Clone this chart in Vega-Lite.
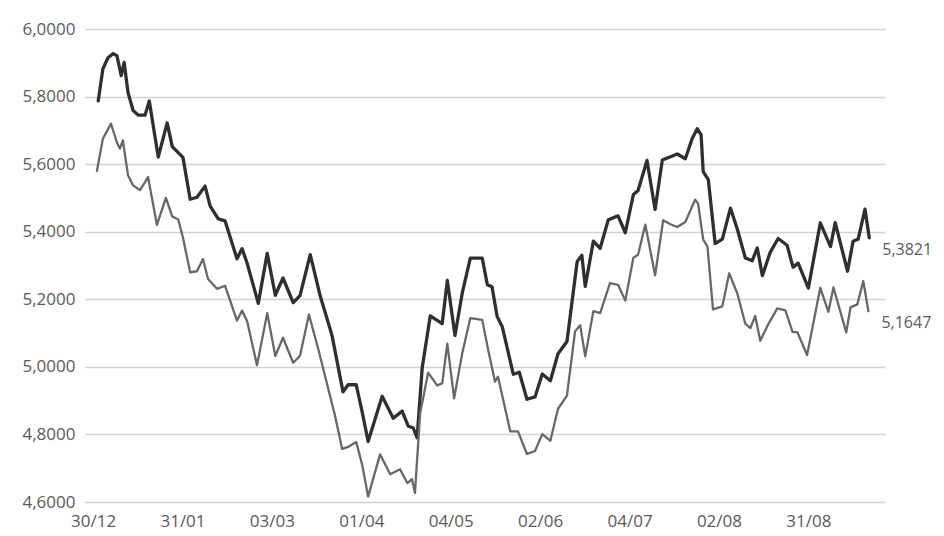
{
 "$schema": "https://vega.github.io/schema/vega-lite/v6.json",
 "autosize": {"type": "none"},
 "width": 800,
 "height": 473,
 "padding": {"left": 85, "top": 29, "right": 59, "bottom": 34},
 "config": {
  "locale": {"number": {"decimal": ",", "thousands": ".", "grouping": [3], "currency": ["R$ ", ""]}},
  "view": {"stroke": null},
  "font": "Open Sans"
 },
 "data": {"values": [
  {"s":"Turismo","t":1.2,"v":5.787},{"s":"Turismo","t":2.3,"v":5.882},{"s":"Turismo","t":3.5,"v":5.915},{"s":"Turismo","t":4.7,"v":5.927},{"s":"Turismo","t":5.6,"v":5.921},{"s":"Turismo","t":6.6,"v":5.862},{"s":"Turismo","t":7.3,"v":5.901},{"s":"Turismo","t":8.2,"v":5.812},{"s":"Turismo","t":9.4,"v":5.759},{"s":"Turismo","t":10.6,"v":5.745},{"s":"Turismo","t":12.2,"v":5.745},{"s":"Turismo","t":13.2,"v":5.787},{"s":"Turismo","t":14.1,"v":5.716},{"s":"Turismo","t":15.3,"v":5.621},{"s":"Turismo","t":17.4,"v":5.722},{"s":"Turismo","t":18.6,"v":5.652},{"s":"Turismo","t":20.0,"v":5.634},{"s":"Turismo","t":21.1,"v":5.620},{"s":"Turismo","t":22.8,"v":5.496},{"s":"Turismo","t":24.4,"v":5.502},{"s":"Turismo","t":26.3,"v":5.535},{"s":"Turismo","t":27.5,"v":5.476},{"s":"Turismo","t":29.4,"v":5.438},{"s":"Turismo","t":31.0,"v":5.432},{"s":"Turismo","t":33.8,"v":5.320},{"s":"Turismo","t":35.0,"v":5.350},{"s":"Turismo","t":36.2,"v":5.306},{"s":"Turismo","t":38.8,"v":5.188},{"s":"Turismo","t":40.9,"v":5.336},{"s":"Turismo","t":42.8,"v":5.212},{"s":"Turismo","t":44.6,"v":5.263},{"s":"Turismo","t":47.0,"v":5.190},{"s":"Turismo","t":48.6,"v":5.211},{"s":"Turismo","t":51.0,"v":5.332},{"s":"Turismo","t":53.3,"v":5.212},{"s":"Turismo","t":56.1,"v":5.094},{"s":"Turismo","t":58.7,"v":4.926},{"s":"Turismo","t":59.9,"v":4.947},{"s":"Turismo","t":61.8,"v":4.947},{"s":"Turismo","t":63.2,"v":4.867},{"s":"Turismo","t":64.6,"v":4.779},{"s":"Turismo","t":67.9,"v":4.913},{"s":"Turismo","t":70.5,"v":4.848},{"s":"Turismo","t":72.6,"v":4.869},{"s":"Turismo","t":74.0,"v":4.825},{"s":"Turismo","t":75.2,"v":4.819},{"s":"Turismo","t":76.1,"v":4.790},{"s":"Turismo","t":77.3,"v":4.997},{"s":"Turismo","t":79.2,"v":5.151},{"s":"Turismo","t":82.0,"v":5.128},{"s":"Turismo","t":83.2,"v":5.256},{"s":"Turismo","t":85.0,"v":5.093},{"s":"Turismo","t":86.7,"v":5.218},{"s":"Turismo","t":88.6,"v":5.322},{"s":"Turismo","t":91.4,"v":5.322},{"s":"Turismo","t":92.6,"v":5.243},{"s":"Turismo","t":93.7,"v":5.237},{"s":"Turismo","t":94.9,"v":5.149},{"s":"Turismo","t":96.1,"v":5.119},{"s":"Turismo","t":98.7,"v":4.978},{"s":"Turismo","t":100.1,"v":4.984},{"s":"Turismo","t":101.9,"v":4.904},{"s":"Turismo","t":103.8,"v":4.911},{"s":"Turismo","t":105.5,"v":4.979},{"s":"Turismo","t":107.4,"v":4.959},{"s":"Turismo","t":109.2,"v":5.039},{"s":"Turismo","t":111.3,"v":5.075},{"s":"Turismo","t":113.7,"v":5.312},{"s":"Turismo","t":114.8,"v":5.330},{"s":"Turismo","t":115.6,"v":5.238},{"s":"Turismo","t":117.5,"v":5.372},{"s":"Turismo","t":119.1,"v":5.351},{"s":"Turismo","t":121.0,"v":5.435},{"s":"Turismo","t":123.3,"v":5.447},{"s":"Turismo","t":125.0,"v":5.397},{"s":"Turismo","t":126.9,"v":5.510},{"s":"Turismo","t":128.0,"v":5.522},{"s":"Turismo","t":130.1,"v":5.611},{"s":"Turismo","t":132.0,"v":5.466},{"s":"Turismo","t":133.7,"v":5.612},{"s":"Turismo","t":135.5,"v":5.621},{"s":"Turismo","t":137.2,"v":5.630},{"s":"Turismo","t":139.1,"v":5.616},{"s":"Turismo","t":140.7,"v":5.675},{"s":"Turismo","t":141.9,"v":5.705},{"s":"Turismo","t":142.8,"v":5.687},{"s":"Turismo","t":143.3,"v":5.578},{"s":"Turismo","t":144.5,"v":5.554},{"s":"Turismo","t":146.1,"v":5.365},{"s":"Turismo","t":147.8,"v":5.378},{"s":"Turismo","t":149.7,"v":5.470},{"s":"Turismo","t":151.3,"v":5.408},{"s":"Turismo","t":153.2,"v":5.322},{"s":"Turismo","t":154.8,"v":5.314},{"s":"Turismo","t":156.0,"v":5.352},{"s":"Turismo","t":157.2,"v":5.270},{"s":"Turismo","t":159.0,"v":5.338},{"s":"Turismo","t":160.9,"v":5.380},{"s":"Turismo","t":163.0,"v":5.360},{"s":"Turismo","t":164.4,"v":5.295},{"s":"Turismo","t":165.6,"v":5.307},{"s":"Turismo","t":168.0,"v":5.233},{"s":"Turismo","t":170.8,"v":5.426},{"s":"Turismo","t":173.2,"v":5.356},{"s":"Turismo","t":174.3,"v":5.427},{"s":"Turismo","t":177.2,"v":5.283},{"s":"Turismo","t":178.5,"v":5.372},{"s":"Turismo","t":179.7,"v":5.378},{"s":"Turismo","t":181.3,"v":5.467},{"s":"Turismo","t":182.3,"v":5.3821},
  {"s":"Comercial","t":0.9,"v":5.580},{"s":"Comercial","t":2.3,"v":5.675},{"s":"Comercial","t":4.2,"v":5.720},{"s":"Comercial","t":5.6,"v":5.664},{"s":"Comercial","t":6.3,"v":5.646},{"s":"Comercial","t":7.0,"v":5.670},{"s":"Comercial","t":8.2,"v":5.567},{"s":"Comercial","t":9.4,"v":5.537},{"s":"Comercial","t":11.0,"v":5.523},{"s":"Comercial","t":12.2,"v":5.547},{"s":"Comercial","t":12.9,"v":5.562},{"s":"Comercial","t":15.0,"v":5.420},{"s":"Comercial","t":17.1,"v":5.500},{"s":"Comercial","t":18.6,"v":5.445},{"s":"Comercial","t":20.0,"v":5.436},{"s":"Comercial","t":21.1,"v":5.383},{"s":"Comercial","t":22.8,"v":5.280},{"s":"Comercial","t":24.4,"v":5.283},{"s":"Comercial","t":25.8,"v":5.319},{"s":"Comercial","t":27.0,"v":5.260},{"s":"Comercial","t":29.1,"v":5.231},{"s":"Comercial","t":31.0,"v":5.240},{"s":"Comercial","t":33.8,"v":5.137},{"s":"Comercial","t":35.0,"v":5.167},{"s":"Comercial","t":36.2,"v":5.134},{"s":"Comercial","t":38.5,"v":5.005},{"s":"Comercial","t":40.9,"v":5.159},{"s":"Comercial","t":42.8,"v":5.032},{"s":"Comercial","t":44.6,"v":5.086},{"s":"Comercial","t":47.0,"v":5.012},{"s":"Comercial","t":48.6,"v":5.033},{"s":"Comercial","t":50.7,"v":5.155},{"s":"Comercial","t":52.9,"v":5.052},{"s":"Comercial","t":56.8,"v":4.857},{"s":"Comercial","t":58.5,"v":4.757},{"s":"Comercial","t":59.9,"v":4.763},{"s":"Comercial","t":61.8,"v":4.778},{"s":"Comercial","t":63.2,"v":4.710},{"s":"Comercial","t":64.6,"v":4.616},{"s":"Comercial","t":67.4,"v":4.741},{"s":"Comercial","t":69.8,"v":4.682},{"s":"Comercial","t":72.1,"v":4.697},{"s":"Comercial","t":73.8,"v":4.656},{"s":"Comercial","t":74.9,"v":4.668},{"s":"Comercial","t":75.6,"v":4.627},{"s":"Comercial","t":76.8,"v":4.861},{"s":"Comercial","t":78.7,"v":4.983},{"s":"Comercial","t":80.8,"v":4.945},{"s":"Comercial","t":82.0,"v":4.951},{"s":"Comercial","t":83.2,"v":5.069},{"s":"Comercial","t":84.8,"v":4.907},{"s":"Comercial","t":86.7,"v":5.040},{"s":"Comercial","t":88.6,"v":5.144},{"s":"Comercial","t":91.4,"v":5.139},{"s":"Comercial","t":92.8,"v":5.050},{"s":"Comercial","t":94.4,"v":4.956},{"s":"Comercial","t":95.1,"v":4.971},{"s":"Comercial","t":98.0,"v":4.809},{"s":"Comercial","t":99.8,"v":4.809},{"s":"Comercial","t":101.9,"v":4.742},{"s":"Comercial","t":103.8,"v":4.751},{"s":"Comercial","t":105.5,"v":4.801},{"s":"Comercial","t":107.4,"v":4.781},{"s":"Comercial","t":109.2,"v":4.876},{"s":"Comercial","t":111.3,"v":4.915},{"s":"Comercial","t":113.2,"v":5.105},{"s":"Comercial","t":114.4,"v":5.123},{"s":"Comercial","t":115.6,"v":5.031},{"s":"Comercial","t":117.5,"v":5.165},{"s":"Comercial","t":119.1,"v":5.159},{"s":"Comercial","t":121.4,"v":5.248},{"s":"Comercial","t":123.3,"v":5.243},{"s":"Comercial","t":125.0,"v":5.196},{"s":"Comercial","t":126.9,"v":5.323},{"s":"Comercial","t":128.0,"v":5.332},{"s":"Comercial","t":129.7,"v":5.421},{"s":"Comercial","t":132.0,"v":5.271},{"s":"Comercial","t":133.9,"v":5.434},{"s":"Comercial","t":135.5,"v":5.423},{"s":"Comercial","t":137.2,"v":5.414},{"s":"Comercial","t":139.1,"v":5.429},{"s":"Comercial","t":141.4,"v":5.495},{"s":"Comercial","t":142.1,"v":5.483},{"s":"Comercial","t":143.3,"v":5.377},{"s":"Comercial","t":144.3,"v":5.356},{"s":"Comercial","t":145.6,"v":5.170},{"s":"Comercial","t":147.8,"v":5.179},{"s":"Comercial","t":149.4,"v":5.277},{"s":"Comercial","t":151.3,"v":5.218},{"s":"Comercial","t":153.2,"v":5.127},{"s":"Comercial","t":154.4,"v":5.115},{"s":"Comercial","t":155.5,"v":5.151},{"s":"Comercial","t":156.7,"v":5.077},{"s":"Comercial","t":158.4,"v":5.122},{"s":"Comercial","t":160.7,"v":5.173},{"s":"Comercial","t":162.6,"v":5.167},{"s":"Comercial","t":164.3,"v":5.103},{"s":"Comercial","t":165.4,"v":5.103},{"s":"Comercial","t":167.7,"v":5.035},{"s":"Comercial","t":170.8,"v":5.234},{"s":"Comercial","t":172.7,"v":5.163},{"s":"Comercial","t":173.9,"v":5.235},{"s":"Comercial","t":176.9,"v":5.102},{"s":"Comercial","t":177.9,"v":5.176},{"s":"Comercial","t":179.5,"v":5.185},{"s":"Comercial","t":180.9,"v":5.254},{"s":"Comercial","t":182.1,"v":5.1647}
 ]},
 "layer": [
  {
   "mark": {"type": "line", "strokeJoin": "round", "strokeCap": "round"},
   "encoding": {
    "x": {"field": "t", "type": "quantitative", "scale": {"domain": [-1.9, 186], "nice": false, "zero": false},
     "axis": {"values": [0, 21, 42, 63, 84, 105, 126, 147, 168],
      "labelExpr": "['30/12','31/01','03/03','01/04','04/05','02/06','04/07','02/08','31/08'][round(datum.value/21)]",
      "title": null, "domain": false, "ticks": false, "grid": false, "labelFont": "Open Sans", "labelFontSize": 17, "labelColor": "#5a5a5a", "labelPadding": 11}},
    "y": {"field": "v", "type": "quantitative", "scale": {"domain": [4.6, 6.0], "nice": false, "zero": false},
     "axis": {"values": [4.6, 4.8, 5.0, 5.2, 5.4, 5.6, 5.8, 6.0], "format": ".4f", "title": null, "domain": false, "ticks": false, "grid": true, "gridColor": "#d3d3d3", "gridWidth": 1.5, "labelFont": "Open Sans", "labelFontSize": 17, "labelColor": "#5a5a5a", "labelPadding": 10}},
    "color": {"field": "s", "type": "nominal", "scale": {"domain": ["Turismo", "Comercial"], "range": ["#2f2f2f", "#686868"]}, "legend": null},
    "strokeWidth": {"field": "s", "type": "nominal", "scale": {"domain": ["Turismo", "Comercial"], "range": [3.3, 2.3]}, "legend": null}
   }
  },
  {
   "transform": [{"filter": "datum.t > 182"}],
   "mark": {"type": "text", "align": "left", "baseline": "middle", "dx": 13, "dy": 12, "font": "Open Sans", "fontSize": 16, "color": "#5a5a5a"},
   "encoding": {
    "x": {"field": "t", "type": "quantitative"},
    "y": {"field": "v", "type": "quantitative"},
    "text": {"field": "v", "type": "quantitative", "format": ".4f"}
   }
  }
 ]
}
